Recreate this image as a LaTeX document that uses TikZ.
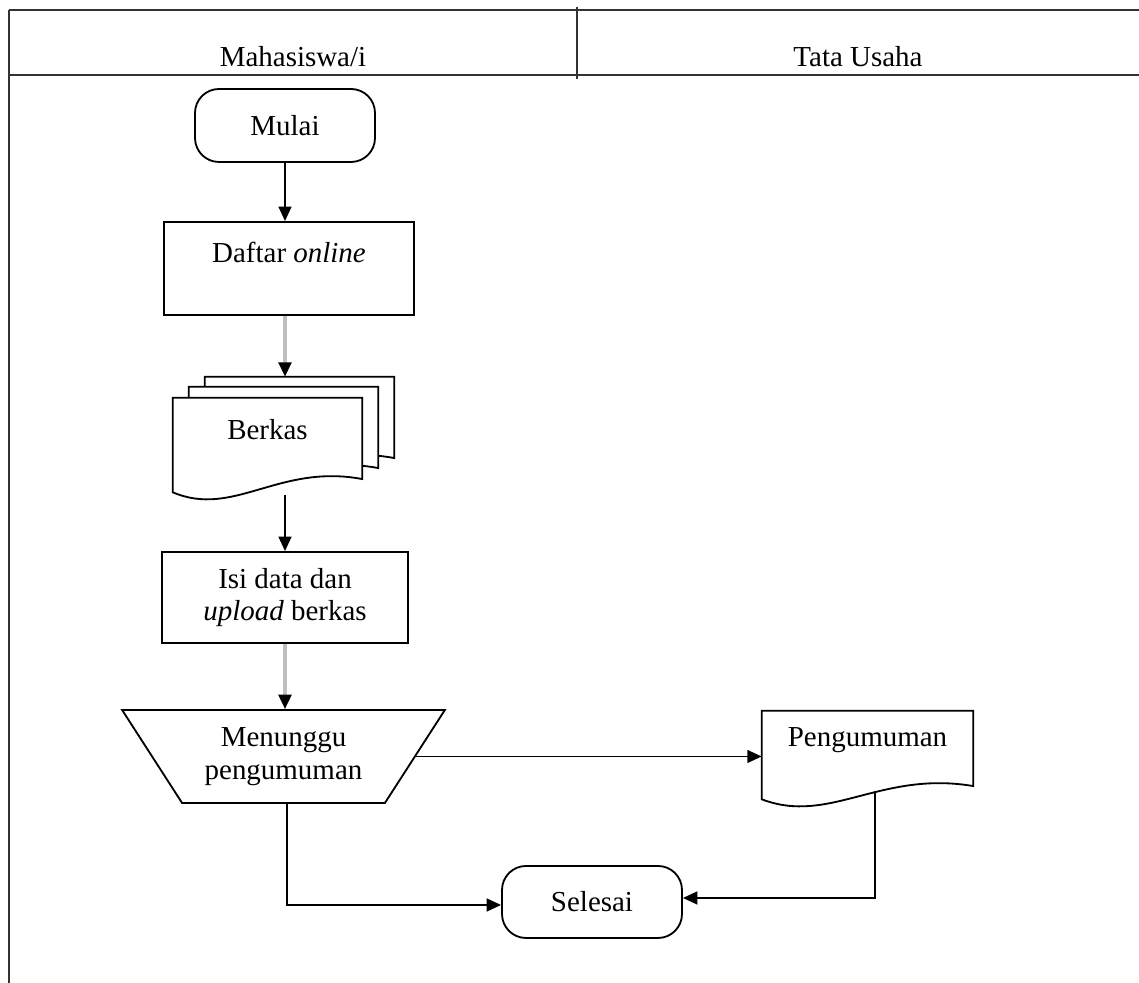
\documentclass[tikz,border=0pt]{standalone}
\usepackage{fontspec}
\setmainfont{Liberation Serif}
\usetikzlibrary{arrows.meta,calc,shapes.geometric,backgrounds}

% document sheet outline round a node, shifted by #2
\newcommand{\docsheet}[2]{%
	\draw[sheet] ($(#1.north west)+#2$) -- ($(#1.north east)+#2$)
		-- ($(#1.south east)+(0,0.33)+#2$)
		.. controls ($(#1.south east)!0.44!(#1.south west)+(0,0.725)+#2$)
		and ($(#1.south west)!0.32!(#1.south east)+(0,-0.65)+#2$) .. ($(#1.south west)+#2$)
		-- cycle;}

\begin{document}
\begin{tikzpicture}[font=\fontsize{20.6}{23}\selectfont]
	\path [use as bounding box] (0,0) rectangle (28.475,24.575);
	\tikzstyle{frame} = [line width=1.8pt, draw=black!80]
	\tikzstyle{sheet} = [draw, line width=1.3pt, fill=white]
	\tikzstyle{box} = [draw, line width=1.3pt, inner sep=0pt]
	\tikzstyle{terminal} = [box, rounded corners=0.6cm, minimum width=4.5cm]
	\tikzstyle{flow} = [line width=1.4pt, -{Triangle[length=0.36cm,width=0.32cm]}]
	\tikzstyle{flowgray} = [line width=2.2pt, draw=gray!50, -{Triangle[length=0.36cm,width=0.32cm,color=black]}]

	% swimlane frame
	\coordinate (TL) at (0.225,24.325);
	\coordinate (HL) at (0.225,22.7);
	\draw[frame] (TL) -- (TL -| 28.475,0);
	\draw[frame] (HL) -- (HL -| 28.475,0);
	\draw[frame] (TL) -- (0.225,0);
	\draw[frame] (14.425,24.4) -- (14.425,22.6);
	\node[anchor=base] (lanemhs) at (7.325,22.9) {Mahasiswa/i};
	\node[anchor=base] (lanetu) at (21.45,22.9) {Tata Usaha};

	% steps
	\node[terminal, minimum height=1.825cm] (mulai) at (7.125,21.4375) {Mulai};
	\node[box, minimum width=6.25cm, minimum height=2.325cm,
		text height=0.5cm, text depth=0.775cm] (daftar) at (7.225,17.8625) {Daftar \emph{online}};
	\node[minimum width=4.725cm, minimum height=2.35cm, inner sep=0pt,
		text height=0.5cm, text depth=0.75cm] (berkas) at (6.6875,13.45) {Berkas};
	\node[box, minimum width=6.15cm, minimum height=2.275cm, align=center] (isi)
		at (7.125,9.6375) {Isi data dan\\\emph{upload} berkas};
	\node[box, trapezium, trapezium angle=51, shape border rotate=180,
		trapezium stretches=true, minimum width=8.075cm, minimum height=2.325cm,
		align=center] (tunggu) at (7.0875,5.6625) {Menunggu\\pengumuman};
	\node[minimum width=5.275cm, minimum height=2.2cm, inner sep=0pt,
		text height=0.5cm, text depth=0.9cm] (peng) at (21.6875,5.7) {Pengumuman};
	\node[terminal, minimum height=1.8cm] (selesai) at (14.8,2.025) {Selesai};

	\begin{scope}[on background layer]
		\docsheet{berkas}{(0.8,0.525)}
		\docsheet{berkas}{(0.4,0.275)}
		\docsheet{berkas}{(0,0)}
		\docsheet{peng}{(0,0)}
	\end{scope}

	% connectors
	\draw[flow] (mulai.south) -- (mulai.south |- daftar.north);
	\draw[flowgray] (daftar.south -| mulai) -- ($(berkas.north -| mulai)+(0,0.525)$);
	\draw[flow] ($(berkas.south -| mulai)+(0,-0.08)$) -- (isi.north);
	\draw[flowgray] (isi.south) -- (isi.south |- tunggu.north);
	\draw[flow] (tunggu.east) -- (tunggu.east -| peng.west);
	\draw[flow] ($(tunggu.south)+(0.09,0)$) |- ($(selesai.west)+(0,-0.075)$);
	\draw[flow] ($(peng.south)+(0.19,0.2)$) |- ($(selesai.east)+(0,0.1)$);
\end{tikzpicture}
\end{document}
